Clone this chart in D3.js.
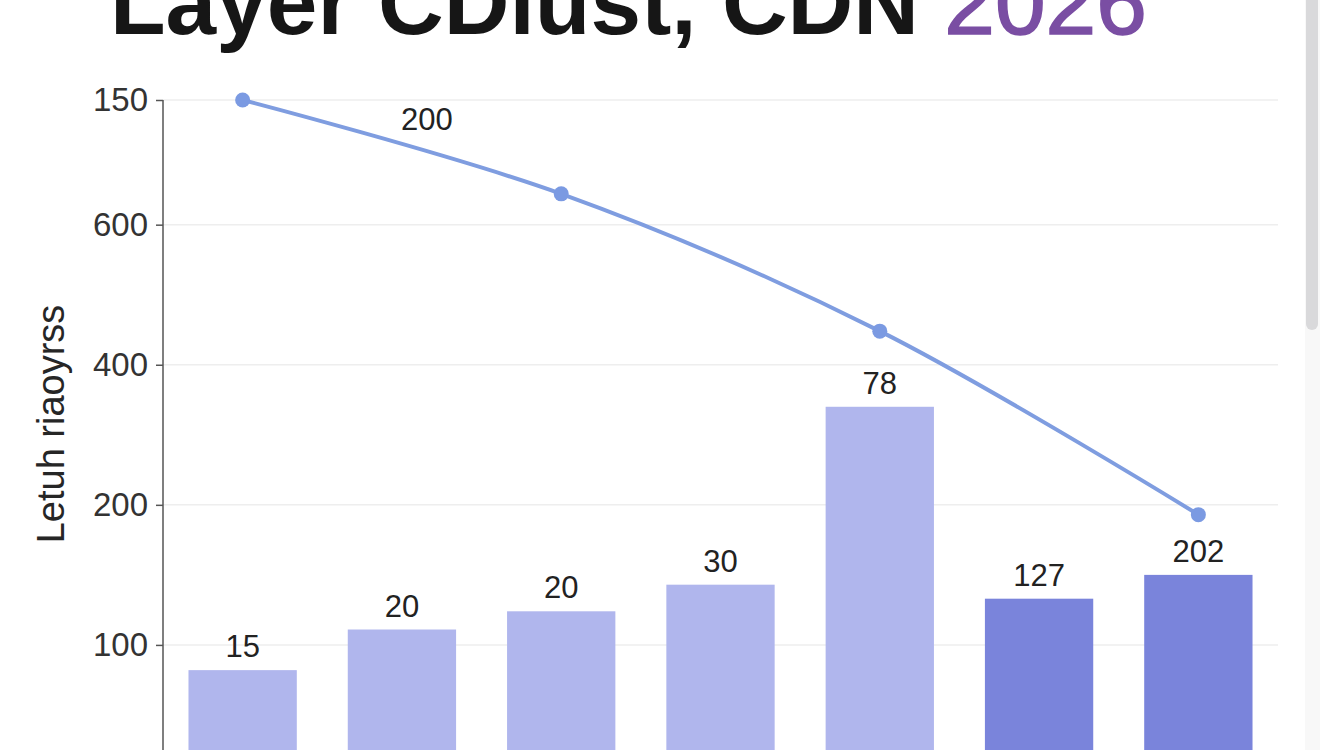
<!DOCTYPE html>
<html>
<head>
<meta charset="utf-8">
<script src="https://cdn.jsdelivr.net/npm/d3@7"></script>
<style>
  html, body { margin: 0; padding: 0; background: #fff; overflow: hidden; }
  svg { display: block; font-family: "Liberation Sans", Arial, sans-serif; }
</style>
</head>
<body>
<svg id="chart" width="1344" height="750"></svg>
<script>
// categories and values
const categories = ['A', 'B', 'C', 'D', 'E', 'F', 'G'];
const barValues = [82, 111, 124, 143, 270, 133, 150];
const barLabels = ['15', '20', '20', '30', '78', '127', '202'];
const barShade = ['light', 'light', 'light', 'light', 'light', 'dark', 'dark'];

const lineCategories = ['A', 'C', 'E', 'G'];
const lineValues = [489, 422, 324, 193];
const lineLabels = [{ index: 0, text: '200' }];

const tickValues = [100, 200, 300, 400, 489];
const tickLabels = ['100', '200', '400', '600', '150'];

const svg = d3.select('#chart');
const width = 1344;
const height = 750;
const margin = { top: 100, right: 66, left: 163 };

const x = d3.scaleBand()
  .domain(categories)
  .range([margin.left, width - margin.right])
  .paddingInner(0.32)
  .paddingOuter(0.16);

const y = d3.scaleLinear()
  .domain([0, 489])
  .range([785, margin.top]);

// scrollbar on the right edge
svg.append('rect')
  .attr('x', 1305).attr('y', 0)
  .attr('width', 15).attr('height', height)
  .attr('fill', '#f8f8f8');
svg.append('rect')
  .attr('x', 1306).attr('y', -10)
  .attr('width', 12).attr('height', 340)
  .attr('rx', 6)
  .attr('fill', '#d9d9db');

// title, cut by the top edge as in the picture
const title = svg.append('text')
  .attr('x', 110)
  .attr('y', 34)
  .attr('font-size', 91)
  .attr('font-weight', 'bold')
  .attr('fill', '#161616');
title.append('tspan').text('Layer CDiust, CDN ');
title.append('tspan')
  .attr('fill', '#7a4ea3')
  .attr('stroke', '#7a4ea3')
  .attr('stroke-width', 1.6)
  .attr('font-weight', 'normal')
  .text('2026');

// gridlines
svg.append('g')
  .selectAll('line')
  .data(tickValues)
  .join('line')
  .attr('x1', margin.left)
  .attr('x2', width - margin.right)
  .attr('y1', (d) => y(d))
  .attr('y2', (d) => y(d))
  .attr('stroke', '#eeeeee')
  .attr('stroke-width', 1.5);

// y axis
const yAxis = svg.append('g')
  .attr('transform', `translate(${margin.left},0)`)
  .call(
    d3.axisLeft(y)
      .tickValues(tickValues)
      .tickFormat((d, i) => tickLabels[i])
      .tickSize(7)
      .tickPadding(8)
  );
yAxis.select('.domain')
  .attr('d', `M0,${margin.top}V${height + 20}`)
  .attr('stroke', '#555')
  .attr('stroke-width', 1.5);
yAxis.selectAll('.tick line').attr('stroke', '#555').attr('stroke-width', 1.5);
yAxis.selectAll('.tick text')
  .attr('font-size', 33)
  .attr('fill', '#333')
  .attr('font-family', '"Liberation Sans", Arial, sans-serif');

// y axis title
svg.append('text')
  .attr('transform', 'translate(64, 424) rotate(-90)')
  .attr('text-anchor', 'middle')
  .attr('font-size', 38)
  .attr('fill', '#262626')
  .text('Letuh riaoyrss');

// bars
const bars = categories.map((c, i) => ({ c, v: barValues[i], label: barLabels[i], shade: barShade[i] }));

svg.append('g')
  .selectAll('rect')
  .data(bars)
  .join('rect')
  .attr('x', (d) => x(d.c))
  .attr('y', (d) => y(d.v))
  .attr('width', x.bandwidth())
  .attr('height', (d) => y(0) - y(d.v))
  .attr('fill', (d) => d.shade === 'dark' ? '#7a84db' : '#b0b6ed');

svg.append('g')
  .selectAll('text')
  .data(bars)
  .join('text')
  .attr('x', (d) => x(d.c) + x.bandwidth() / 2)
  .attr('y', (d) => y(d.v) - 13)
  .attr('text-anchor', 'middle')
  .attr('font-size', 31)
  .attr('fill', '#222')
  .text((d) => d.label);

// line
const points = lineCategories.map((c, i) => ({ c, v: lineValues[i] }));
const cx = (d) => x(d.c) + x.bandwidth() / 2;

svg.append('path')
  .datum(points)
  .attr('fill', 'none')
  .attr('stroke', '#7f9de0')
  .attr('stroke-width', 4)
  .attr('d', d3.line().x(cx).y((d) => y(d.v)).curve(d3.curveCatmullRom.alpha(0.5)));

svg.append('g')
  .selectAll('circle')
  .data(points)
  .join('circle')
  .attr('cx', cx)
  .attr('cy', (d) => y(d.v))
  .attr('r', 7.5)
  .attr('fill', '#7b9ae2');

svg.append('g')
  .selectAll('text')
  .data(lineLabels)
  .join('text')
  .attr('x', (d) => (cx(points[d.index]) + cx(points[d.index + 1])) / 2 + 25)
  .attr('y', (d) => (y(points[d.index].v) + y(points[d.index + 1].v)) / 2 - 17)
  .attr('text-anchor', 'middle')
  .attr('font-size', 31)
  .attr('fill', '#222')
  .text((d) => d.text);
</script>
</body>
</html>
